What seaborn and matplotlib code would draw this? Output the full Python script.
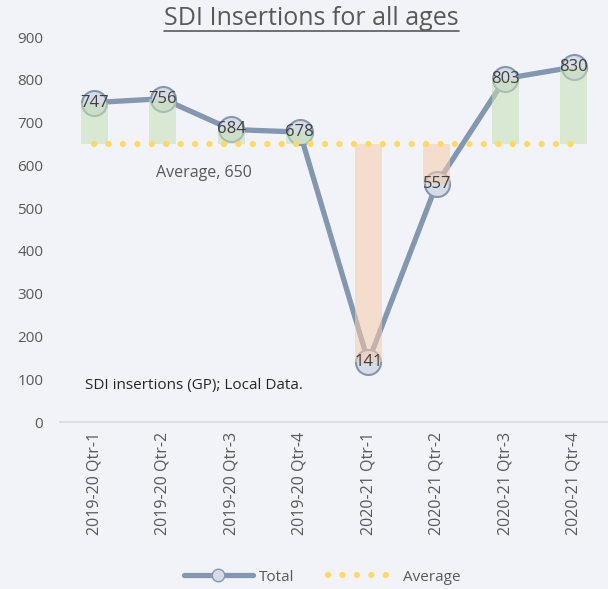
import matplotlib
matplotlib.use("Agg")
import matplotlib.pyplot as plt
import seaborn as sns
import pandas as pd
from matplotlib.lines import Line2D

categories = ["2019-20 Qtr-1", "2019-20 Qtr-2", "2019-20 Qtr-3", "2019-20 Qtr-4",
              "2020-21 Qtr-1", "2020-21 Qtr-2", "2020-21 Qtr-3", "2020-21 Qtr-4"]
totals = [747, 756, 684, 678, 141, 557, 803, 830]
average = 650
yticks = [0, 100, 200, 300, 400, 500, 600, 700, 800, 900]

sns.set_theme(style="white")
plt.rcParams['font.family'] = ['Open Sans', 'DejaVu Sans']

bg = "#f2f3f8"
line_col = "#8497b0"
face_col = "#d6dce5"
green = "#c5e0b4"
peach = "#f8cbad"
gold = "#ffd966"
txt = "#595959"

fig = plt.figure(figsize=(6.08, 5.89), dpi=100, facecolor=bg)
ax = fig.add_axes([0.0987, 0.2835, 0.9013, 0.6535])
ax.set_facecolor(bg)

xs = list(range(len(categories)))

sns.lineplot(x=xs, y=totals, ax=ax, color=line_col, linewidth=3.8, marker="o",
             markersize=18, markerfacecolor=face_col, markeredgecolor=line_col,
             markeredgewidth=1.5, zorder=2)

diffs = [t - average for t in totals]
colors = [green if d >= 0 else peach for d in diffs]
ax.bar(xs, diffs, bottom=average, width=0.4, color=colors, alpha=0.55, zorder=3, linewidth=0)

ax.plot(xs, [average] * len(xs), linestyle=(0, (0.01, 2.3)), dash_capstyle="round",
        color=gold, linewidth=4.5, zorder=4)

for x, t in zip(xs, totals):
    ax.text(x, t, str(t), ha="center", va="center", fontsize=12, color="#404040", zorder=5)

ax.text(1.60, 583, "Average, 650", ha="center", va="center", fontsize=11.5, color=txt)
ax.text(-0.13, 85, "SDI insertions (GP); Local Data.", ha="left", va="center", fontsize=11, color="#262626")

ax.set_xlim(-0.5, len(categories) - 0.5)
ax.set_ylim(0, 900)
ax.set_yticks(yticks)
ax.set_xticks(xs)
ax.set_xticklabels(categories, rotation=90, fontsize=11.5, color=txt)
ax.tick_params(axis="y", labelsize=11, labelcolor=txt, length=0, pad=12)
ax.tick_params(axis="x", length=0, pad=7)
for s in ["top", "right", "left"]:
    ax.spines[s].set_visible(False)
ax.spines["bottom"].set_color("#d9d9d9")
ax.spines["bottom"].set_linewidth(1.2)

title = fig.text(0.512, 0.968, "SDI Insertions for all ages", ha="center", va="center",
                 fontsize=18, color=txt)
fig.canvas.draw()
bb = title.get_window_extent(fig.canvas.get_renderer())
W, H = fig.bbox.width, fig.bbox.height
fig.add_artist(Line2D([bb.x0 / W, bb.x1 / W], [1 - 31 / 589, 1 - 31 / 589],
                      transform=fig.transFigure, color=txt, linewidth=1.2))

handles = [Line2D([], [], color=line_col, linewidth=3.8, marker="o", markersize=9,
                  markerfacecolor=face_col, markeredgecolor=line_col),
           Line2D([], [], color=gold, linewidth=4.5, linestyle=(0, (0.01, 2.3)),
                  dash_capstyle="round")]
fig.legend(handles, ["Total", "Average"], loc="center", bbox_to_anchor=(0.53, 0.02),
           ncol=2, frameon=False, fontsize=11, labelcolor=txt, handlelength=4.5,
           columnspacing=2.2, handletextpad=0.4)

fig.savefig("out.png", dpi=100, facecolor=bg)
